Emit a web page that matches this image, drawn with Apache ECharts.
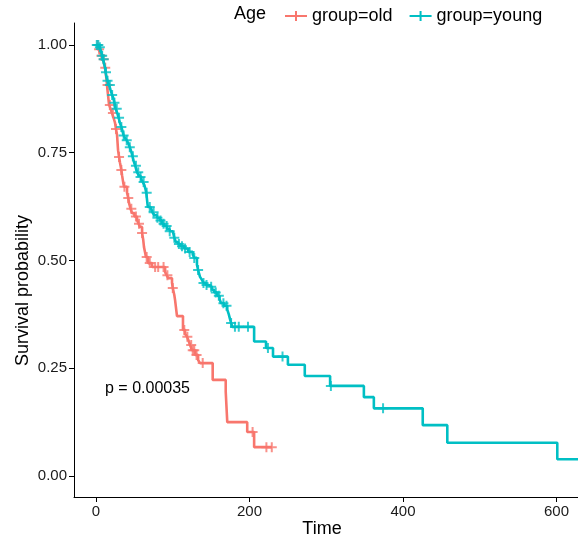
<!DOCTYPE html>
<html>
<head>
<meta charset="utf-8">
<script src="https://cdn.jsdelivr.net/npm/echarts@6/dist/echarts.min.js"></script>
<style>html,body{margin:0;padding:0;background:#fff}#c{width:578px;height:541px}</style>
</head>
<body>
<div id="c"></div>
<script>
// ---- data ----
const oldTimes = [0,3,5,7,9,10.5,11.7,13,14.3,15.6,17,19,20.8,23,24.8,26,27.4,28.7,30,31.3,33,33.9,35.5,36.5,40.4,42,43,45,47,50,53.4,55.5,57.3,60,61.5,62.5,64,65,67.8,73,90,92,94,99,100,102,103,105.5,113.3,116,118.6,121,122.5,125,129,133,135.5,152,169,171,197,206,229];
const oldSurv  = [1.0,0.99,0.984,0.975,0.967,0.957,0.947,0.93,0.907,0.884,0.861,0.852,0.842,0.83,0.819,0.805,0.791,0.756,0.74,0.726,0.71,0.698,0.68,0.671,0.657,0.645,0.633,0.62,0.61,0.602,0.594,0.585,0.578,0.564,0.548,0.531,0.518,0.508,0.494,0.485,0.473,0.466,0.459,0.448,0.436,0.42,0.408,0.371,0.339,0.33,0.323,0.312,0.304,0.292,0.281,0.269,0.262,0.223,0.195,0.125,0.102,0.067,0.067];
const oldCensor = [2,4,7,10,12,15,18,22,26,30,33,37,42,46,52,56,60,66,70,77,81,88,93,100,115,119,124,126,128,131,139,204,222,229];

const youngTimes = [0,5,6.5,8,9,10.5,11.7,12.5,13.5,15,17,19,21,22.5,24,25.4,27.5,29.5,31,33,34.5,36,37.8,40,41.7,44,46,47.5,49,51,53.4,55.5,57.3,59,61,63,64.5,65.5,66.5,67.5,71,73.5,76,79.5,83,86,89,92.5,96,100,102,104,107,110,115,120,126,128,131.5,133,135.5,138,140,143,147,151,154,158,161,163,167,171,173,174.6,176,177.5,206,221.5,230.6,250,272,305,349,362,425.7,457.7,601,628];
const youngSurv  = [1.0,0.995,0.985,0.975,0.967,0.957,0.947,0.937,0.926,0.917,0.907,0.895,0.884,0.877,0.866,0.852,0.843,0.831,0.82,0.81,0.8,0.79,0.784,0.779,0.773,0.763,0.752,0.742,0.731,0.72,0.705,0.698,0.694,0.688,0.682,0.675,0.665,0.657,0.64,0.624,0.62,0.612,0.605,0.599,0.593,0.585,0.58,0.573,0.568,0.564,0.553,0.543,0.538,0.533,0.528,0.52,0.514,0.506,0.49,0.478,0.462,0.455,0.448,0.443,0.439,0.432,0.426,0.418,0.41,0.401,0.395,0.386,0.375,0.364,0.355,0.346,0.312,0.297,0.277,0.258,0.232,0.209,0.183,0.157,0.118,0.077,0.039,0.039];
const youngCensor = [1,3,5,8,10,13,15,18,21,24,27,30,33,36,40,44,48,52,55,58,62,66,70,75,80,84,88,92,96,102,108,112,116,122,128,133,140,144,150,156,160,166,170,176,181,186,198,224,243,306,374];

const groupNames = ['group=old','group=young'];
const xTicks = [0,200,400,600];
const yTicks = [0,0.25,0.5,0.75,1];
const pText = 'p = 0.00035';

// ---- build ----
const RED = '#F8766D', CYAN = '#00BFC4';
const FONT = '"Liberation Sans", Arial, sans-serif';
function pairs(t, s){ return t.map((x,i)=>[x, s[i]]); }
function survAt(t, s, x){ let v = s[0]; for (let i=0;i<t.length;i++){ if (t[i] <= x) v = s[i]; else break; } return v; }
function censorPts(ct, t, s){ return ct.map(x => [x, survAt(t, s, x)]); }
const PLUS = 'path://M4,0h2v4h4v2h-4v4h-2v-4h-4v-2h4z';
const LEGICON = 'path://M0,4.1h22v1.8h-22z M10,0h2v10h-2z';

const chart = echarts.init(document.getElementById('c'), null, {renderer:'canvas'});
chart.setOption({
  animation: false,
  backgroundColor: '#fff',
  grid: {left: 74, right: 0, top: 23, bottom: 44, containLabel: false},
  legend: {
    left: 280, top: 2, itemWidth: 22, itemHeight: 10, itemGap: 17,
    textStyle: {fontFamily: FONT, fontSize: 18, color: '#000'},
    data: [{name: groupNames[0], icon: LEGICON, itemStyle:{color:RED}}, {name: groupNames[1], icon: LEGICON, itemStyle:{color:CYAN}}],
    selectedMode: false
  },
  xAxis: {
    type: 'value', min: -28.7, max: 628,
    splitLine: {show: false},
    axisLine: {show: true, onZero: false, lineStyle: {color: '#000', width: 1}},
    axisTick: {show: true, length: 5, lineStyle: {color: '#000'}, customValues: xTicks},
    axisLabel: {customValues: xTicks, fontFamily: FONT, fontSize: 15, color: '#1a1a1a', margin: 7, formatter: v => String(v)}
  },
  yAxis: {
    type: 'value', min: -0.0487, max: 1.051,
    splitLine: {show: false},
    axisLine: {show: true, onZero: false, lineStyle: {color: '#000', width: 1}},
    axisTick: {show: true, length: 5, lineStyle: {color: '#000'}, customValues: yTicks},
    axisLabel: {customValues: yTicks, fontFamily: FONT, fontSize: 15, color: '#1a1a1a', margin: 7, formatter: v => v.toFixed(2)}
  },
  graphic: [
    {type:'text', style:{text:'Age', x:234, y:14, font:'18px ' + FONT, fill:'#000', verticalAlign:'middle', align:'left'}},
    {type:'text', style:{text:pText, x:105, y:389, font:'16px ' + FONT, fill:'#000', verticalAlign:'middle', align:'left'}},
    {type:'text', style:{text:'Time', x:322, y:529, font:'18px ' + FONT, fill:'#000', verticalAlign:'middle', align:'center'}},
    {type:'text', x:23, y:290.5, rotation: Math.PI/2, style:{text:'Survival probability', x:0, y:0, font:'18px ' + FONT, fill:'#000', verticalAlign:'middle', align:'center'}}
  ],
  series: [
    {name: groupNames[0], type:'line', step:'end', showSymbol:false, data: pairs(oldTimes, oldSurv), lineStyle:{color:RED, width:2.6}, itemStyle:{color:RED}, z:2},
    {name: groupNames[0], type:'scatter', symbol: PLUS, symbolSize: 10, data: censorPts(oldCensor, oldTimes, oldSurv), itemStyle:{color:RED}, z:3},
    {name: groupNames[1], type:'line', step:'end', showSymbol:false, data: pairs(youngTimes, youngSurv), lineStyle:{color:CYAN, width:2.6}, itemStyle:{color:CYAN}, z:4},
    {name: groupNames[1], type:'scatter', symbol: PLUS, symbolSize: 10, data: censorPts(youngCensor, youngTimes, youngSurv), itemStyle:{color:CYAN}, z:5}
  ]
});
</script>
</body>
</html>
